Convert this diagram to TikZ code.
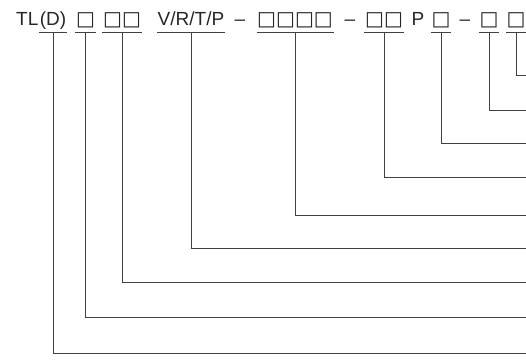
\documentclass[tikz,border=0pt]{standalone}
\usepackage{fontspec}
\setmainfont{Liberation Sans}
\newfontfamily\boxfont{DejaVu Sans}
\usetikzlibrary{positioning}
\newcommand{\bx}{{\boxfont\fontsize{20}{20}\selectfont\symbol{"25A1}}}

\begin{document}
\begin{tikzpicture}[x=1pt, y=-1pt, node distance=0pt,
    every node/.style={font=\fontsize{19}{22}\selectfont, text=black!85,
      inner ysep=0pt, inner xsep=0.5pt, anchor=base},
    lead/.style={draw=black!75, line width=0.9pt}]
  \useasboundingbox (0,0) rectangle (526,361);
  % code string
  \node (d) at (53,26) {(D)};
  \node[base left=of d] (tl) {TL};
  \node (a) at (85.5,26) {\bx};
  \node (b) at (122,26) {\bx\bx};
  \node (v) at (191,26) {V/R/T/P};
  \node (m1) at (240,26) {--};
  \node (c) at (295,26) {\bx\bx\bx\bx};
  \node (m2) at (350,26) {--};
  \node (e) at (384,26) {\bx\bx};
  \node (pp) at (418,26) {P};
  \node (p) at (441,26) {\bx};
  \node (m3) at (465,26) {--};
  \node (f) at (489,26) {\bx};
  \node (h) at (516,26) {\bx};
  % underlines and leaders to the right edge
  \foreach \g/\y in {d/353, a/317, b/282, v/248, c/215, e/177, p/143, f/110, h/75} {
    \draw[lead] ([yshift=-6pt]\g.base west) -- ([yshift=-6pt]\g.base east);
    \coordinate (end-\g) at (526,\y);
    \draw[lead] ([yshift=-6pt]\g.base) |- (end-\g);
  }
\end{tikzpicture}
\end{document}
